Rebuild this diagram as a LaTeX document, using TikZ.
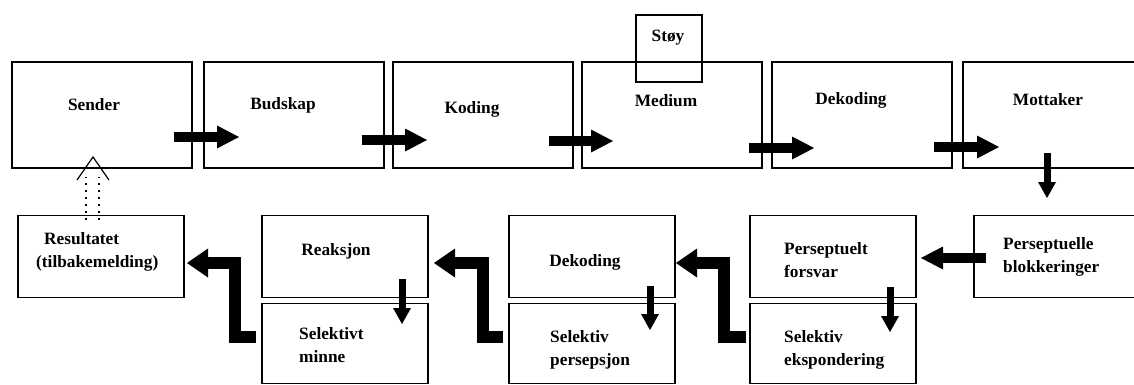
\documentclass[tikz,border=0pt]{standalone}
\usepackage{fontspec}
\setmainfont{Liberation Serif}
\usepackage{tikz}
\usetikzlibrary{positioning,arrows.meta}
\tikzset{x=1pt,y=1pt,
  every node/.style={font=\fontsize{17.3}{23}\selectfont\bfseries},
  boks/.style={draw,line width=1.6pt,minimum width=180pt,minimum height=106pt,inner sep=0pt,outer sep=0pt},
  lboks/.style={boks,minimum width=166pt,minimum height=82pt},
  tekst/.style={inner sep=0pt,align=left},
  stor/.style={line width=10pt,-{Triangle[length=22pt,width=23pt,line width=0pt]}},
  liten/.style={line width=7pt,-{Triangle[length=16pt,width=18pt,line width=0pt]}},
  knekk/.style={line width=12pt,-{Triangle[length=21pt,width=29pt,line width=0pt]}},
  prikk/.style={line width=2pt,dash pattern=on 2pt off 5pt}}

\begin{document}
\begin{tikzpicture}
    \useasboundingbox (0,0) rectangle (1134,-385);
    \clip (0,0) rectangle (1134,-385);
    \node[boks] (sender) at (102,-115) {};
    \node[boks] (budskap) [right=12pt of sender] {};
    \node[boks] (koding) [right=9pt of budskap] {};
    \node[boks] (medium) [right=9pt of koding] {};
    \node[boks] (dekoding) [right=10pt of medium] {};
    \node[boks] (mottaker) [right=11pt of dekoding] {};
    \node[boks,minimum width=66pt,minimum height=67pt] (stoy) at (669,-48.5) {};
    \node[lboks] (blokk) at (1057,-256.5) {};
    \node[lboks] (forsvar) [left=58pt of blokk] {};
    \node[lboks] (dekoding2) [left=75pt of forsvar] {};
    \node[lboks] (reaksjon) [left=81pt of dekoding2] {};
    \node[lboks] (resultat) [left=78pt of reaksjon] {};
    \node[lboks,minimum height=80pt] (minne) [below=6pt of reaksjon] {};
    \node[lboks,minimum height=80pt] (persepsjon) [below=6pt of dekoding2] {};
    \node[lboks,minimum height=80pt] (eksp) [below=6pt of forsvar] {};

    \node[tekst] (t-sender) at (94,-105) {Sender};
    \node[tekst] (t-budskap) at (283,-105) {Budskap};
    \node[tekst] (t-koding) at (472,-109) {Koding};
    \node[tekst] (t-medium) at (666,-101) {Medium};
    \node[tekst] (t-stoy) at (668,-38) {Støy};
    \node[tekst] (t-dekoding) at (851,-100) {Dekoding};
    \node[tekst] (t-mottaker) at (1048,-100) {Mottaker};
    \node[tekst,anchor=west] (t-resultat) at (36,-252) {\hspace*{8pt}Resultatet\\(tilbakemelding)};
    \node[tekst] (t-reaksjon) at (336,-251) {Reaksjon};
    \node[tekst,anchor=west] (t-minne) at (299,-345) {Selektivt\\minne};
    \node[tekst] (t-dekoding2) at (585,-262) {Dekoding};
    \node[tekst,anchor=west] (t-persepsjon) at (550,-350) {Selektiv\\persepsjon};
    \node[tekst,anchor=west] (t-forsvar) at (784,-260) {Perseptuelt\\forsvar};
    \node[tekst,anchor=west] (t-eksp) at (784,-350) {Selektiv\\ekspondering};
    \node[tekst,anchor=west] (t-blokk) at (1003,-257) {Perseptuelle\\blokkeringer};

    \draw[stor] ([xshift=-18pt,yshift=-22pt]sender.east) -- ([xshift=35pt,yshift=-22pt]budskap.west);
    \draw[stor] ([xshift=-22pt,yshift=-25pt]budskap.east) -- ([xshift=34pt,yshift=-25pt]koding.west);
    \draw[stor] ([xshift=-24pt,yshift=-26pt]koding.east) -- ([xshift=31pt,yshift=-26pt]medium.west);
    \draw[stor] ([xshift=-13pt,yshift=-33pt]medium.east) -- ([xshift=42pt,yshift=-33pt]dekoding.west);
    \draw[stor] ([xshift=-18pt,yshift=-32pt]dekoding.east) -- ([xshift=36pt,yshift=-32pt]mottaker.west);
    \draw[liten] ([xshift=-6pt,yshift=15pt]mottaker.south) -- ([xshift=-10pt,yshift=17.5pt]blokk.north);
    \draw[stor] ([xshift=12pt,yshift=-1.5pt]blokk.west) -- ([xshift=5pt,yshift=-1.5pt]forsvar.east);

    \draw[liten] ([xshift=57pt,yshift=10.5pt]forsvar.south) -- ([xshift=57pt,yshift=-28.5pt]eksp.north);
    \draw[knekk] ([xshift=-4pt,yshift=6.5pt]eksp.west) -- ++(-22,0) |- ([xshift=1pt,yshift=-6.5pt]dekoding2.east);
    \draw[liten] ([xshift=58pt,yshift=11.5pt]dekoding2.south) -- ([xshift=58pt,yshift=-26.5pt]persepsjon.north);
    \draw[knekk] ([xshift=-6pt,yshift=6.5pt]persepsjon.west) -- ++(-20,0) |- ([xshift=6pt,yshift=-6.5pt]reaksjon.east);
    \draw[liten] ([xshift=57pt,yshift=18.5pt]reaksjon.south) -- ([xshift=57pt,yshift=-20.5pt]minne.north);
    \draw[knekk] ([xshift=-6pt,yshift=7pt]minne.west) -- ++(-21.5,0) |- ([xshift=3pt,yshift=-6.5pt]resultat.east);

    \draw[prikk] ([xshift=-15pt,yshift=-4pt]resultat.north) -- ([xshift=-16pt,yshift=-9pt]sender.south);
    \draw[prikk] ([xshift=-2pt,yshift=-4pt]resultat.north) -- ([xshift=-3pt,yshift=-9pt]sender.south);
    \draw[line width=1.2pt] ([xshift=-25pt,yshift=-12pt]sender.south) -- ([xshift=-9pt,yshift=11pt]sender.south) -- ([xshift=7pt,yshift=-12pt]sender.south);
\end{tikzpicture}
\end{document}
